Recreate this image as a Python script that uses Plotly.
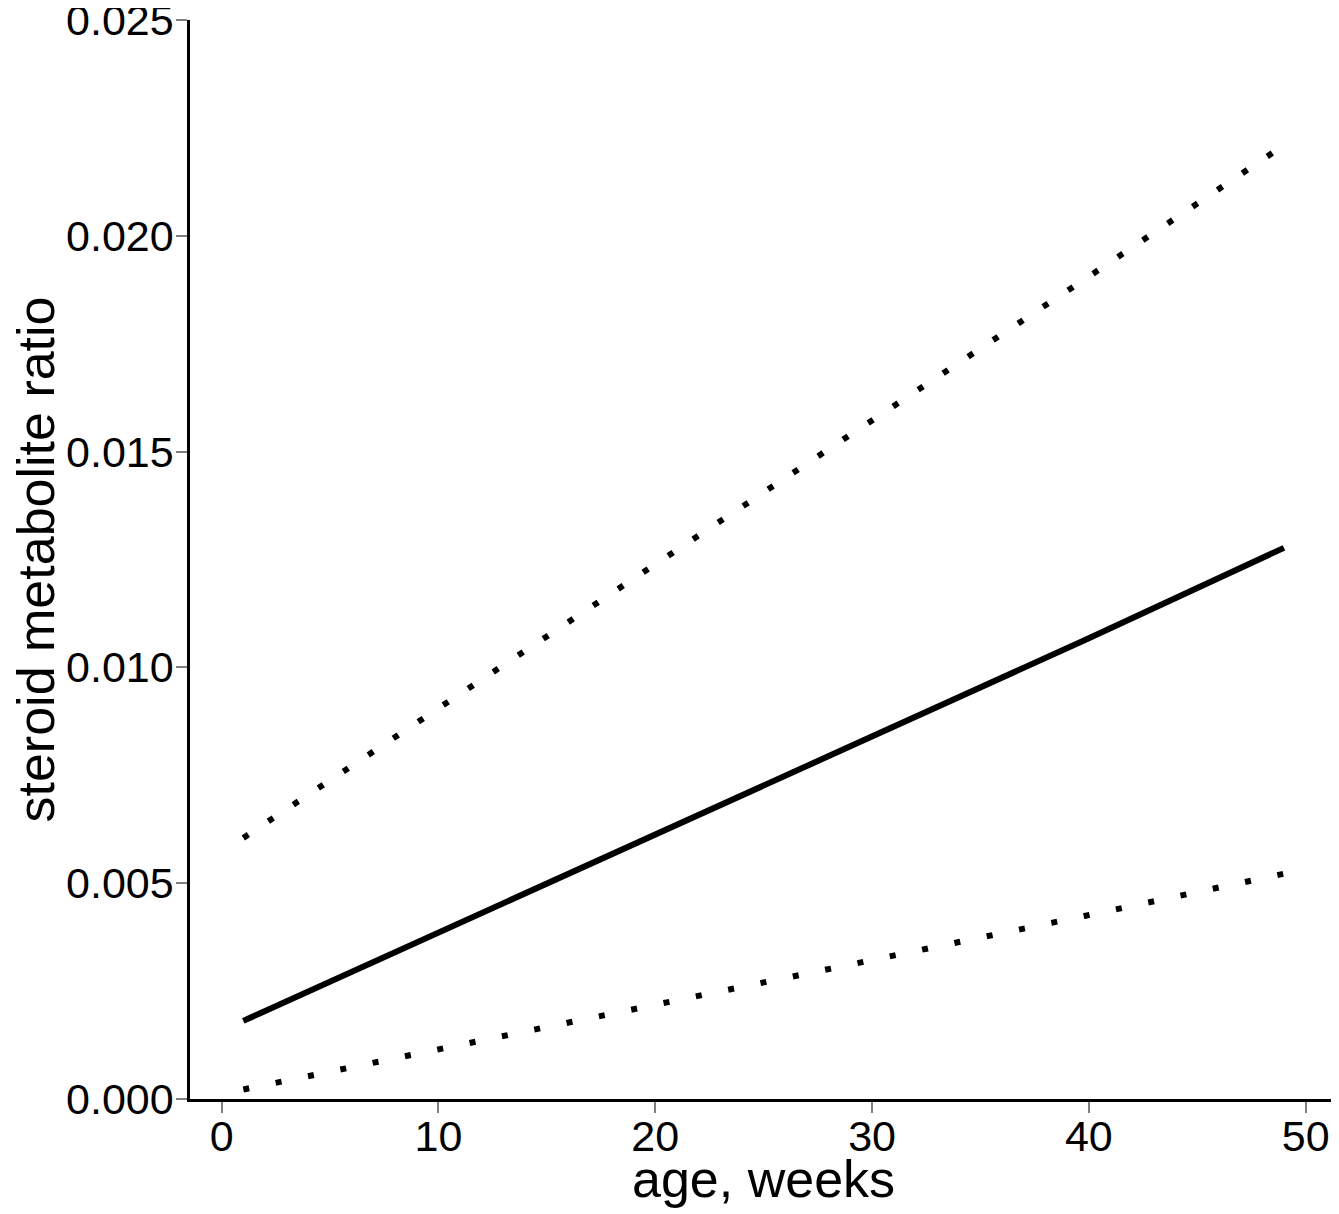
import plotly.graph_objects as go

# age in weeks
age = [1, 9.13, 21.1, 27.8, 39.8, 49]
# fitted steroid metabolite ratio (solid) and interval bounds (dotted)
fit = [0.00181, 0.00365, 0.00638, 0.00790, 0.01063, 0.01277]
upper = [0.00605, 0.00875, 0.01275, 0.01499, 0.01899, 0.02210]
lower = [0.00022, 0.00107, 0.00232, 0.00299, 0.00424, 0.00522]

x_ticks = [0, 10, 20, 30, 40, 50]
y_ticks = [0.000, 0.005, 0.010, 0.015, 0.020, 0.025]
y_ticklabels = ["0.000", "0.005", "0.010", "0.015", "0.020", "0.025"]

x_title = "age, weeks"
y_title = "steroid metabolite ratio"

FONT = "Liberation Sans, Arial, Helvetica, sans-serif"

fig = go.Figure()
fig.add_trace(go.Scatter(x=age, y=upper, mode="lines",
                         line=dict(color="black", width=6, dash="6px,24px"),
                         showlegend=False))
fig.add_trace(go.Scatter(x=age, y=lower, mode="lines",
                         line=dict(color="black", width=6, dash="6px,27px"),
                         showlegend=False))
fig.add_trace(go.Scatter(x=age, y=fit, mode="lines",
                         line=dict(color="black", width=6),
                         showlegend=False))

fig.update_layout(
    width=1331, height=1206,
    margin=dict(l=182, r=3, t=12, b=115),
    paper_bgcolor="white", plot_bgcolor="white",
    font=dict(family=FONT, color="black", size=43),
)
fig.update_xaxes(
    range=[-1.46, 51.4], tickvals=x_ticks,
    showgrid=False, zeroline=False,
    showline=True, linecolor="black", linewidth=2.5,
    ticks="outside", ticklen=11, tickwidth=2, tickcolor="#808080",
    tickfont=dict(size=43, family=FONT, color="black"),
    ticklabeloverflow="allow", ticklabelstandoff=-13,
    automargin=False,
)
fig.update_yaxes(
    range=[0, 0.025], tickvals=y_ticks, ticktext=y_ticklabels,
    showgrid=False, zeroline=False,
    showline=True, linecolor="black", linewidth=2.5,
    ticks="outside", ticklen=11, tickwidth=2, tickcolor="#808080",
    tickfont=dict(size=43, family=FONT, color="black"),
    ticklabeloverflow="allow", ticklabelstandoff=-6,
    automargin=False,
)
fig.add_annotation(text=x_title, xref="paper", yref="paper", x=0.5, y=0,
                   xanchor="center", yanchor="middle", yshift=-80, showarrow=False,
                   font=dict(size=52, family=FONT, color="black"))
fig.add_annotation(text=y_title, xref="paper", yref="paper", x=0, y=0.5,
                   xanchor="center", yanchor="middle", xshift=-155, textangle=-90,
                   showarrow=False, font=dict(size=52, family=FONT, color="black"))

fig.write_html("out.html")
